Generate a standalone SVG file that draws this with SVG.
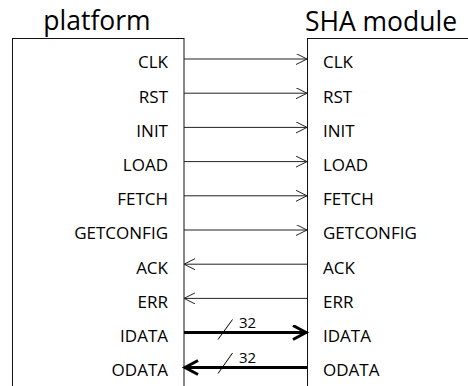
<svg xmlns="http://www.w3.org/2000/svg" width="468" height="386" viewBox="0 0 468 386">
  <style>
    .title { font-family: "Open Sans", "Liberation Sans", sans-serif; font-size: 26.5px; fill: #000; }
    .sig { font-family: "Open Sans", "Liberation Sans", sans-serif; font-size: 17px; fill: #000; }
    .sig-l { text-anchor: end; }
    .width { font-family: "Open Sans", "Liberation Sans", sans-serif; font-size: 15px; fill: #000; }
    .box { fill: #fff; stroke: #111; stroke-width: 1; }
    .wire { stroke: #222; stroke-width: 1; fill: none; marker-end: url(#open); }
    .bus { stroke: #000; stroke-width: 3; fill: none; marker-end: url(#openBold); }
    .slash { stroke: #000; stroke-width: 1; fill: none; }
  </style>
  <defs>
    <marker id="open" viewBox="0 0 12 12" refX="11" refY="5.5" markerWidth="12" markerHeight="12" markerUnits="userSpaceOnUse" orient="auto">
      <path d="M0,0 L11,5.5 L0,11" fill="none" stroke="#222" stroke-width="1"/>
    </marker>
    <marker id="openBold" viewBox="0 0 18 18" refX="15" refY="8" markerWidth="18" markerHeight="18" markerUnits="userSpaceOnUse" orient="auto">
      <path d="M1,1 L14,8 L1,15" fill="none" stroke="#000" stroke-width="3"/>
    </marker>
  </defs>

  <!-- platform side -->
  <g id="platform">
    <text class="title" x="97" y="29.5" text-anchor="middle">platform</text>
    <rect class="box" x="12.5" y="38.5" width="171.5" height="400"/>
    <text class="sig sig-l" x="168" y="68.3">CLK</text>
    <text class="sig sig-l" x="168" y="102.5">RST</text>
    <text class="sig sig-l" x="168" y="136.7">INIT</text>
    <text class="sig sig-l" x="168" y="170.9">LOAD</text>
    <text class="sig sig-l" x="168" y="205.1">FETCH</text>
    <text class="sig sig-l" x="168" y="239.3">GETCONFIG</text>
    <text class="sig sig-l" x="168" y="273.5">ACK</text>
    <text class="sig sig-l" x="168" y="307.7">ERR</text>
    <text class="sig sig-l" x="168" y="341.9">IDATA</text>
    <text class="sig sig-l" x="168" y="376.1">ODATA</text>
  </g>

  <!-- SHA module side -->
  <g id="sha-module">
    <text class="title" x="381" y="30.5" text-anchor="middle">SHA module</text>
    <rect class="box" x="307.5" y="38.5" width="200" height="400"/>
    <text class="sig" x="323" y="68.3">CLK</text>
    <text class="sig" x="323" y="102.5">RST</text>
    <text class="sig" x="323" y="136.7">INIT</text>
    <text class="sig" x="323" y="170.9">LOAD</text>
    <text class="sig" x="323" y="205.1">FETCH</text>
    <text class="sig" x="323" y="239.3">GETCONFIG</text>
    <text class="sig" x="323" y="273.5">ACK</text>
    <text class="sig" x="323" y="307.7">ERR</text>
    <text class="sig" x="323" y="341.9">IDATA</text>
    <text class="sig" x="323" y="376.1">ODATA</text>
  </g>

  <!-- signal connectors -->
  <g id="connectors">
    <line class="wire" x1="184" y1="59" x2="307" y2="59"/>
    <line class="wire" x1="184" y1="93.2" x2="307" y2="93.2"/>
    <line class="wire" x1="184" y1="127.4" x2="307" y2="127.4"/>
    <line class="wire" x1="184" y1="161.6" x2="307" y2="161.6"/>
    <line class="wire" x1="184" y1="195.8" x2="307" y2="195.8"/>
    <line class="wire" x1="184" y1="230" x2="307" y2="230"/>
    <line class="wire" x1="307" y1="264.2" x2="184" y2="264.2"/>
    <line class="wire" x1="307" y1="298.4" x2="184" y2="298.4"/>

    <line class="bus" x1="184" y1="332.5" x2="307" y2="332.5"/>
    <line class="slash" x1="218" y1="339.5" x2="232.5" y2="319.5"/>
    <text class="width" x="239" y="328.3">32</text>

    <line class="bus" x1="307" y1="367.5" x2="184" y2="367.5"/>
    <line class="slash" x1="218" y1="373.5" x2="232.5" y2="353"/>
    <text class="width" x="239" y="363.3">32</text>
  </g>
</svg>
